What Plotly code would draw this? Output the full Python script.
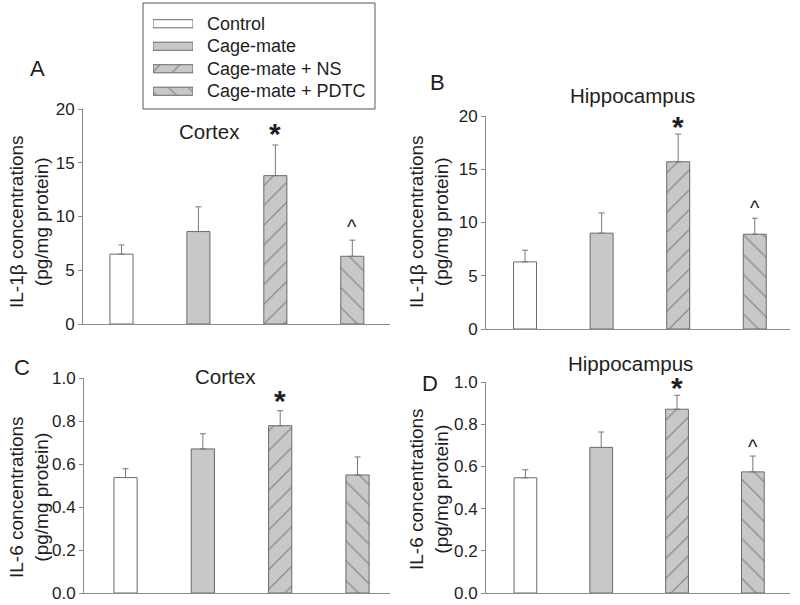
import plotly.graph_objects as go

GROUPS = ["Control", "Cage-mate", "Cage-mate + NS", "Cage-mate + PDTC"]

# Panel A: IL-1beta, cortex
A_MEAN = [6.5, 8.6, 13.8, 6.3]
A_SEM = [0.85, 2.3, 2.85, 1.5]
A_SIG = ["", "", "*", "^"]
# Panel B: IL-1beta, hippocampus
B_MEAN = [6.3, 9.0, 15.7, 8.9]
B_SEM = [1.1, 1.9, 2.6, 1.5]
B_SIG = ["", "", "*", "^"]
# Panel C: IL-6, cortex
C_MEAN = [0.537, 0.67, 0.778, 0.549]
C_SEM = [0.041, 0.071, 0.07, 0.084]
C_SIG = ["", "", "*", ""]
# Panel D: IL-6, hippocampus
D_MEAN = [0.546, 0.69, 0.871, 0.574]
D_SEM = [0.038, 0.073, 0.066, 0.075]
D_SIG = ["", "", "*", "^"]

FILL = ["white", "#c8c8c8", "#c8c8c8", "#c8c8c8"]
PATTERN = ["", "", "/", "\\"]

FONT = "Liberation Sans, Arial, sans-serif"
TXT = "#1e1e1e"
AX = "#8a8a8a"
W, H = 800, 605

panels = [
    dict(mean=A_MEAN, sem=A_SEM, sig=A_SIG, xa="x", ya="y",
         xdom=[83/W, 390/W], ydom=[1-324/H, 1-109/H], xr=[-0.5, 3.49],
         yr=[0, 20], dtick=5, fmt="", star=-7, caret=0),
    dict(mean=B_MEAN, sem=B_SEM, sig=B_SIG, xa="x2", ya="y2",
         xdom=[486/W, 790/W], ydom=[1-329/H, 1-116/H], xr=[-0.51, 3.46],
         yr=[0, 20], dtick=5, fmt="", star=-11, caret=-3),
    dict(mean=C_MEAN, sem=C_SEM, sig=C_SIG, xa="x3", ya="y3",
         xdom=[84/W, 390/W], ydom=[1-593/H, 1-378/H], xr=[-0.537, 3.42],
         yr=[0, 1.0], dtick=0.2, fmt=".1f", star=-8, caret=0),
    dict(mean=D_MEAN, sem=D_SEM, sig=D_SIG, xa="x4", ya="y4",
         xdom=[486/W, 790/W], ydom=[1-593/H, 1-382/H], xr=[-0.52, 3.49],
         yr=[0, 1.0], dtick=0.2, fmt=".1f", star=-11, caret=-4),
]

fig = go.Figure()
annotations = []
layout_axes = {}

def bar_marker(gi):
    return dict(color=FILL[gi], line=dict(color="#6a6a6a", width=1),
                pattern=dict(shape=PATTERN[gi], fgcolor="#555555",
                             size=14, solidity=0.1))

for pi, p in enumerate(panels):
    for gi, g in enumerate(GROUPS):
        fig.add_trace(go.Bar(
            x=[g], y=[p["mean"][gi]], width=0.3, name=g, showlegend=False,
            xaxis=p["xa"], yaxis=p["ya"], marker=bar_marker(gi),
            error_y=dict(type="data", symmetric=False, array=[p["sem"][gi]],
                         arrayminus=[0], color="#777777", thickness=1, width=3),
        ))
        s = p["sig"][gi]
        if s:
            top = p["mean"][gi] + p["sem"][gi]
            annotations.append(dict(
                x=g, y=top, xref=p["xa"], yref=p["ya"], text=s, showarrow=False,
                yanchor="bottom", yshift=(p["star"] if s == "*" else p["caret"]),
                font=dict(size=(30 if s == "*" else 20), family=FONT, color=TXT,
                          weight=("bold" if s == "*" else "normal"))))
    xk = "xaxis" + ("" if pi == 0 else str(pi + 1))
    yk = "yaxis" + ("" if pi == 0 else str(pi + 1))
    layout_axes[xk] = dict(domain=p["xdom"], anchor=p["ya"], range=p["xr"],
                           type="category", categoryorder="array", categoryarray=GROUPS,
                           showticklabels=False, ticks="", showline=True,
                           linecolor=AX, linewidth=1, showgrid=False, zeroline=False,
                           fixedrange=True)
    layout_axes[yk] = dict(domain=p["ydom"], anchor=p["xa"], range=p["yr"],
                           dtick=p["dtick"], tickformat=p["fmt"], ticks="outside",
                           ticklen=4, tickcolor=AX, showline=True, linecolor=AX,
                           linewidth=1, showgrid=False, zeroline=False,
                           tickfont=dict(size=17, family=FONT, color=TXT),
                           fixedrange=True)

# Legend: swatches as horizontal bars in a small hidden axis, labels as text
for gi, g in enumerate(GROUPS):
    fig.add_trace(go.Bar(
        x=[1], y=[g], base=0, orientation="h", width=0.36, showlegend=False,
        xaxis="x5", yaxis="y5", marker=bar_marker(gi), hoverinfo="skip"))
    annotations.append(dict(x=205/W, y=g, xref="paper", yref="y5", text=g,
                            showarrow=False, xanchor="left", yanchor="middle",
                            font=dict(size=18, family=FONT, color=TXT)))
layout_axes["xaxis5"] = dict(domain=[153/W, 193/W], anchor="y5", range=[0, 1],
                             visible=False, fixedrange=True)
layout_axes["yaxis5"] = dict(domain=[1-102.5/H, 1-12.5/H], anchor="x5",
                             type="category", categoryorder="array",
                             categoryarray=GROUPS, range=[3.5, -0.5],
                             visible=False, fixedrange=True)

def pa(x, y, text, size, angle=0):
    return dict(x=x/W, y=1-y/H, xref="paper", yref="paper", text=text,
                showarrow=False, xanchor="center", yanchor="middle", textangle=angle,
                font=dict(size=size, family=FONT, color=TXT))

annotations += [
    pa(37, 68, "A", 22), pa(437, 83, "B", 22), pa(22, 368, "C", 22), pa(430, 383, "D", 22),
    pa(209, 131, "Cortex", 20.5), pa(632, 95, "Hippocampus", 20.5),
    pa(226, 377, "Cortex", 20.5), pa(630, 363, "Hippocampus", 20.5),
    pa(29, 222, "IL-1β concentrations<br>(pg/mg protein)", 19, -90),
    pa(429, 222, "IL-1β concentrations<br>(pg/mg protein)", 19, -90),
    pa(29, 497, "IL-6 concentrations<br>(pg/mg protein)", 19, -90),
    pa(429, 489, "IL-6 concentrations<br>(pg/mg protein)", 19, -90),
]

shapes = [dict(type="rect", xref="paper", yref="paper",
               x0=143/W, x1=375/W, y0=1-109/H, y1=1-3/H,
               line=dict(color="#555555", width=1), fillcolor="rgba(0,0,0,0)",
               layer="below")]

fig.update_layout(
    width=W, height=H, margin=dict(l=0, r=0, t=0, b=0, autoexpand=False),
    paper_bgcolor="white", plot_bgcolor="rgba(0,0,0,0)", barmode="overlay",
    font=dict(family=FONT, color=TXT), showlegend=False,
    annotations=annotations, shapes=shapes,
    **layout_axes,
)

fig.write_html("out.html", config={"displayModeBar": False},
               post_script="document.body.style.margin='0';")
